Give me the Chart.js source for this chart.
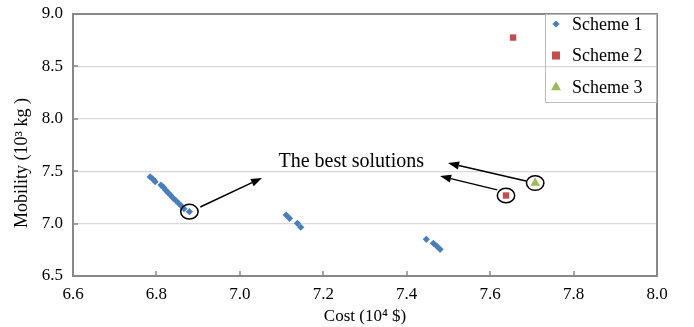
<!DOCTYPE html>
<html><head><meta charset="utf-8">
<script src="https://cdn.jsdelivr.net/npm/chart.js@4/dist/chart.umd.min.js"></script>
<style>html,body{margin:0;padding:0;background:#fff}</style>
</head><body>
<canvas id="c" width="694" height="327"></canvas>
<script>
// ---- data ----
const seriesNames = ['Scheme 1', 'Scheme 2', 'Scheme 3'];
const scheme1Cost = [6.785,6.791,6.797,6.811,6.817,6.822,6.828,6.834,6.840,6.847,6.853,6.860,6.866,6.879,
                     7.111,7.119,7.138,7.146,
                     7.447,7.464,7.472,7.480];
const scheme1Mobility = [7.445,7.426,7.400,7.368,7.346,7.320,7.295,7.270,7.244,7.218,7.194,7.168,7.142,7.114,
                         7.082,7.050,7.003,6.965,
                         6.850,6.812,6.786,6.755];
const scheme2Cost = [7.655, 7.638];
const scheme2Mobility = [8.775, 7.268];
const scheme3Cost = [7.708];
const scheme3Mobility = [7.387];
const xTickValues = [6.6, 6.8, 7.0, 7.2, 7.4, 7.6, 7.8, 8.0];
const yTickValues = [6.5, 7.0, 7.5, 8.0, 8.5, 9.0];
const xTitle = 'Cost (10\u2074 $)';
const yTitle = 'Mobility (10\u00b3 kg )';
const noteText = 'The best solutions';
// best solutions (data units) and arrows (data units)
const bestPoints = [[6.879, 7.114], [7.638, 7.268], [7.708, 7.387]];
const notePos = [7.267, 7.588];
const arrowFrom = [[6.905, 7.158], [7.686, 7.406], [7.617, 7.322]];
const arrowTo   = [[7.053, 7.435], [7.499, 7.578], [7.480, 7.454]];

const toXY = (xs, ys) => xs.map((x, i) => ({x: x, y: ys[i]}));
const colors = ['#4A7EBB', '#C0504D', '#9BBB59'];
const styles = ['rectRot', 'rect', 'triangle'];
const radii = [3.6, 4.5, 5.5];
const SERIF = '"Liberation Serif", "Times New Roman", serif';
const AXIS = '#888888';

function drawMarker(ctx, style, x, y, r, color) {
  ctx.save();
  ctx.fillStyle = color;
  ctx.beginPath();
  if (style === 'rectRot') {
    ctx.moveTo(x, y - r); ctx.lineTo(x + r, y); ctx.lineTo(x, y + r); ctx.lineTo(x - r, y);
  } else if (style === 'rect') {
    ctx.rect(x - r * 0.9, y - r * 0.9, r * 1.8, r * 1.8);
  } else {
    ctx.moveTo(x, y - r); ctx.lineTo(x + r * 0.9, y + r * 0.6); ctx.lineTo(x - r * 0.9, y + r * 0.6);
  }
  ctx.closePath(); ctx.fill();
  ctx.restore();
}

const decor = {
  id: 'decor',
  afterDatasetsDraw(chart) {
    const {ctx, chartArea: a, scales: {x, y}} = chart;
    ctx.save();
    // frame top/right
    ctx.strokeStyle = AXIS; ctx.lineWidth = 2;
    ctx.beginPath();
    ctx.moveTo(a.left, a.top); ctx.lineTo(a.right, a.top); ctx.lineTo(a.right, a.bottom);
    ctx.stroke();
    // inside tick marks
    ctx.lineWidth = 1.5;
    ctx.beginPath();
    xTickValues.forEach(v => { const px = Math.round(x.getPixelForValue(v)); ctx.moveTo(px, a.bottom); ctx.lineTo(px, a.bottom - 5); });
    yTickValues.forEach(v => { const py = Math.round(y.getPixelForValue(v)); ctx.moveTo(a.left, py); ctx.lineTo(a.left + 5, py); });
    ctx.stroke();

    // y title
    ctx.fillStyle = '#000';
    ctx.font = '18px ' + SERIF;
    ctx.textAlign = 'center'; ctx.textBaseline = 'middle';
    ctx.save();
    ctx.translate(22, (a.top + a.bottom) / 2 + 18);
    ctx.rotate(-Math.PI / 2);
    ctx.fillText(yTitle, 0, 0);
    ctx.restore();

    // legend
    const lx0 = a.right - 112, ly0 = a.top, lh = 88;
    ctx.strokeStyle = '#bbbbbb'; ctx.lineWidth = 1;
    ctx.strokeRect(lx0 + 0.5, ly0 + 0.5, a.right - lx0 - 1, lh);
    ctx.font = '18px ' + SERIF; ctx.textAlign = 'left'; ctx.textBaseline = 'middle';
    seriesNames.forEach((n, i) => {
      const cy = ly0 + 10 + i * 31.5;
      drawMarker(ctx, styles[i], lx0 + 11, cy, radii[i], colors[i]);
      ctx.fillStyle = '#000';
      ctx.fillText(n, lx0 + 27, cy + 1);
    });

    // ellipses around best solutions
    ctx.strokeStyle = '#000'; ctx.lineWidth = 1.5;
    bestPoints.forEach(p => {
      ctx.beginPath();
      ctx.ellipse(x.getPixelForValue(p[0]), y.getPixelForValue(p[1]), 8.7, 7.3, 0, 0, Math.PI * 2);
      ctx.stroke();
    });
    // arrows
    arrowFrom.forEach((f, i) => {
      const x1 = x.getPixelForValue(f[0]), y1 = y.getPixelForValue(f[1]);
      const x2 = x.getPixelForValue(arrowTo[i][0]), y2 = y.getPixelForValue(arrowTo[i][1]);
      const ang = Math.atan2(y2 - y1, x2 - x1);
      const L = 11, W = 4;
      const bx = x2 - L * Math.cos(ang), by = y2 - L * Math.sin(ang);
      ctx.beginPath(); ctx.moveTo(x1, y1); ctx.lineTo(bx, by); ctx.stroke();
      ctx.beginPath();
      ctx.moveTo(x2, y2);
      ctx.lineTo(bx + W * Math.sin(ang), by - W * Math.cos(ang));
      ctx.lineTo(bx - W * Math.sin(ang), by + W * Math.cos(ang));
      ctx.closePath(); ctx.fillStyle = '#000'; ctx.fill();
    });
    // note text
    ctx.fillStyle = '#000';
    ctx.font = '20px ' + SERIF; ctx.textAlign = 'center'; ctx.textBaseline = 'middle';
    ctx.fillText(noteText, x.getPixelForValue(notePos[0]), y.getPixelForValue(notePos[1]));
    ctx.restore();
  }
};

new Chart(document.getElementById('c'), {
  type: 'scatter',
  data: {
    datasets: [
      {label: seriesNames[0], data: toXY(scheme1Cost, scheme1Mobility)},
      {label: seriesNames[1], data: toXY(scheme2Cost, scheme2Mobility)},
      {label: seriesNames[2], data: toXY(scheme3Cost, scheme3Mobility)}
    ].map((d, i) => Object.assign(d, {
      pointStyle: styles[i], pointRadius: radii[i], pointHoverRadius: radii[i],
      backgroundColor: colors[i], borderColor: colors[i], borderWidth: 0
    }))
  },
  options: {
    responsive: false, animation: false, devicePixelRatio: 1,
    layout: {padding: {left: 0, top: 14, right: 37, bottom: 0}},
    plugins: {legend: {display: false}, tooltip: {enabled: false}},
    scales: {
      x: {
        type: 'linear', min: 6.6, max: 8.0,
        afterBuildTicks: s => { s.ticks = xTickValues.map(v => ({value: v})); },
        afterFit: s => { s.height = 51; s.paddingLeft = 0; s.paddingRight = 0; },
        ticks: {callback: v => v.toFixed(1), color: '#000', font: {family: SERIF, size: 17}, padding: 8, maxRotation: 0},
        grid: {display: true, drawOnChartArea: false, drawTicks: false},
        border: {color: AXIS, width: 2},
        title: {display: true, text: xTitle, color: '#000', font: {family: SERIF, size: 17}, padding: {top: 0, bottom: 0}}
      },
      y: {
        type: 'linear', min: 6.5, max: 9.0,
        afterBuildTicks: s => { s.ticks = yTickValues.map(v => ({value: v})); },
        afterFit: s => { s.width = 73; s.paddingTop = 0; s.paddingBottom = 0; },
        ticks: {callback: v => v.toFixed(1), color: '#000', font: {family: SERIF, size: 17}, padding: 10},
        grid: {color: '#d9d9d9', lineWidth: 1.2, drawTicks: false},
        border: {color: AXIS, width: 2}
      }
    }
  },
  plugins: [decor]
});
</script>
</body></html>
